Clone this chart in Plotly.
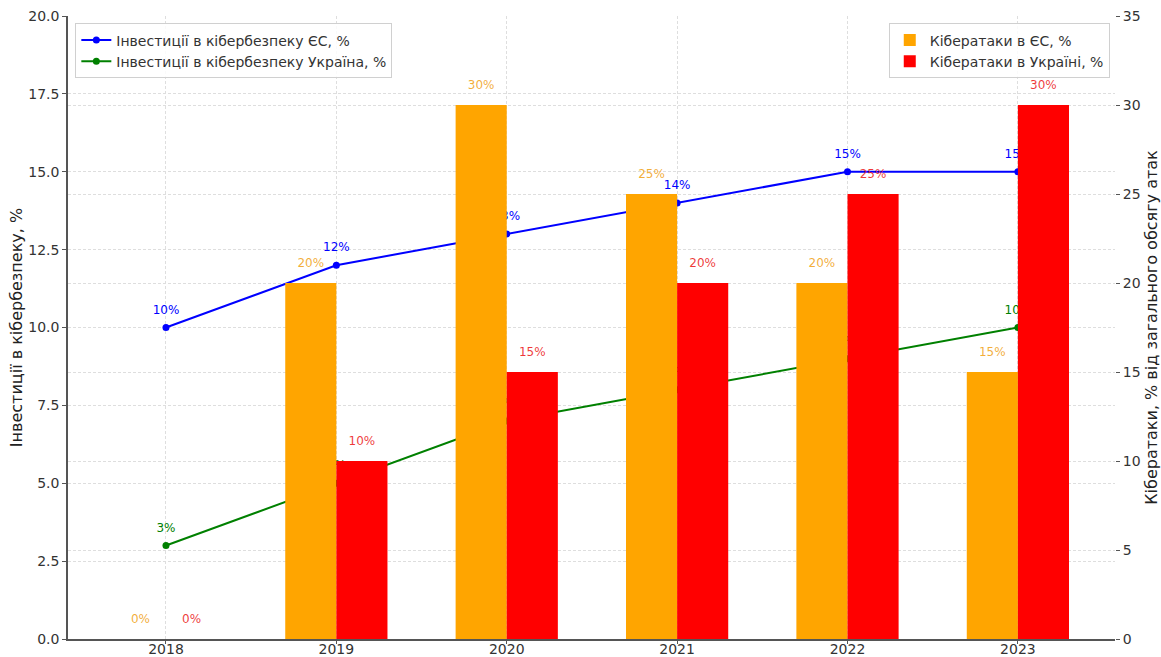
import numpy as np
import plotly.graph_objects as go

# Роки спостережень
years = [2018, 2019, 2020, 2021, 2022, 2023]

# Інвестиції в кібербезпеку, % (ліва вісь)
invest_eu = [10, 12, 13, 14, 15, 15]
invest_ua = [3, 5, 7, 8, 9, 10]

# Кібератаки, % від загального обсягу атак (права вісь)
attacks_eu = [0, 20, 30, 25, 20, 15]
attacks_ua = [0, 10, 15, 20, 25, 30]

BAR_W = 0.3
FONT = "DejaVu Sans"
TICK_COLOR = "#333333"

x = np.array(years, dtype=float)
x_eu = x - BAR_W / 2
x_ua = x + BAR_W / 2

fig = go.Figure()

# Лінії інвестицій (ліва вісь, під стовпчиками)
fig.add_trace(go.Scatter(
    x=x, y=invest_eu, mode="lines+markers", name="Інвестиції в кібербезпеку ЄС, %",
    line=dict(color="blue", width=2), marker=dict(size=7, color="blue"),
    yaxis="y", legend="legend", hoverinfo="skip"))
fig.add_trace(go.Scatter(
    x=x, y=invest_ua, mode="lines+markers", name="Інвестиції в кібербезпеку Україна, %",
    line=dict(color="green", width=2), marker=dict(size=7, color="green"),
    yaxis="y", legend="legend", hoverinfo="skip"))

# Підписи значень ліній
for vals, col in ((invest_eu, "blue"), (invest_ua, "green")):
    fig.add_trace(go.Scatter(
        x=x, y=vals, mode="markers+text", text=[f"{v}%" for v in vals],
        textposition="top center", textfont=dict(color=col, size=12, family=FONT),
        marker=dict(size=16, color="rgba(0,0,0,0)"), showlegend=False,
        yaxis="y", hoverinfo="skip"))

# Стовпчики кібератак (права вісь)
fig.add_trace(go.Bar(
    x=x, y=attacks_eu, width=BAR_W, offset=-BAR_W, name="Кібератаки в ЄС, %",
    marker=dict(color="orange", line=dict(width=0)), yaxis="y2", xaxis="x",
    legend="legend2", hoverinfo="skip"))
fig.add_trace(go.Bar(
    x=x, y=attacks_ua, width=BAR_W, offset=0, name="Кібератаки в Україні, %",
    marker=dict(color="red", line=dict(width=0)), yaxis="y2", xaxis="x",
    legend="legend2", hoverinfo="skip"))

# Підписи значень стовпчиків
for xs, vals, col in ((x_eu, attacks_eu, "rgba(240,160,20,0.85)"),
                      (x_ua, attacks_ua, "rgba(235,20,20,0.85)")):
    fig.add_trace(go.Scatter(
        x=xs, y=vals, mode="markers+text", text=[f"{v}%" for v in vals],
        textposition="top center", textfont=dict(color=col, size=12, family=FONT),
        marker=dict(size=20, color="rgba(0,0,0,0)"), showlegend=False,
        yaxis="y2", hoverinfo="skip"))

grid = dict(showgrid=True, gridcolor="#dedede", griddash="3px,2px", gridwidth=1)

fig.update_layout(
    width=1161, height=657,
    margin=dict(l=68, r=46, t=16, b=18),
    paper_bgcolor="white", plot_bgcolor="white",
    font=dict(family=FONT, size=14, color=TICK_COLOR),
    barmode="overlay",
    xaxis=dict(
        range=[2017.425, 2023.57], tickvals=years, ticktext=[str(y) for y in years],
        ticks="outside", ticklen=3, tickcolor="#555", showline=True,
        linecolor="#555", linewidth=1.5, zeroline=False, automargin=False,
        ticklabelstandoff=-7,
        tickfont=dict(size=14, color=TICK_COLOR), **grid),
    yaxis=dict(
        range=[0, 20], tickvals=[0, 2.5, 5, 7.5, 10, 12.5, 15, 17.5, 20],
        ticktext=["0.0", "2.5", "5.0", "7.5", "10.0", "12.5", "15.0", "17.5", "20.0"],
        ticks="outside", ticklen=4, tickcolor="#555", showline=True,
        linecolor="#555", linewidth=1.5, zeroline=False, automargin=False,
        title=dict(text="Інвестиції в кібербезпеку, %", font=dict(size=16, color="#222"),
                   standoff=2),
        tickfont=dict(size=14, color=TICK_COLOR), **grid),
    yaxis2=dict(
        range=[0, 35], tickvals=[0, 5, 10, 15, 20, 25, 30, 35],
        overlaying="y", side="right", ticks="outside", ticklen=4, tickcolor="#555",
        showline=False, zeroline=False, automargin=False,
        title=dict(text="Кібератаки, % від загального обсягу атак",
                   font=dict(size=16, color="#222"), standoff=6),
        tickfont=dict(size=14, color=TICK_COLOR), **grid),
    legend=dict(
        x=0.007, y=0.988, xanchor="left", yanchor="top",
        bgcolor="rgba(255,255,255,0.85)", bordercolor="#d0d0d0", borderwidth=1,
        font=dict(size=14, color=TICK_COLOR), tracegroupgap=0),
    legend2=dict(
        x=0.995, y=0.988, xanchor="right", yanchor="top",
        bgcolor="rgba(255,255,255,0.85)", bordercolor="#d0d0d0", borderwidth=1,
        font=dict(size=14, color=TICK_COLOR), tracegroupgap=0),
)

fig.write_html("out.html")
